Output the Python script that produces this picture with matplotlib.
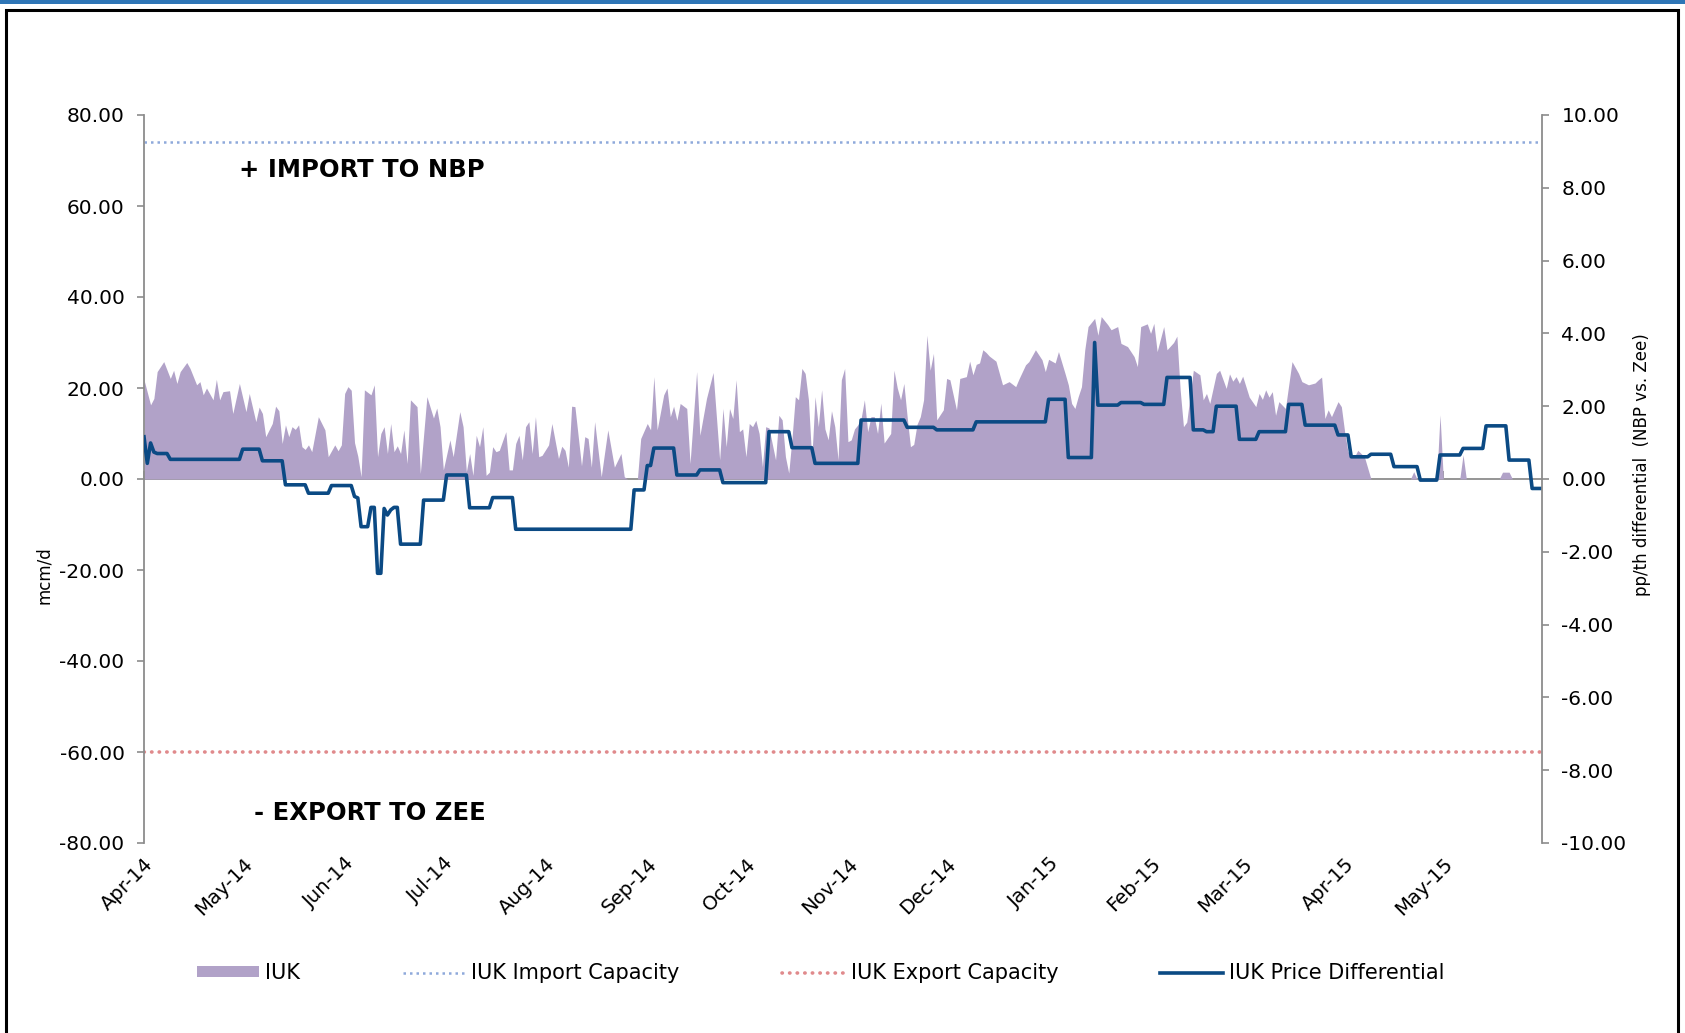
import pandas as pd
import matplotlib
matplotlib.use("Agg")
import matplotlib.pyplot as plt
import matplotlib.dates as mdates
import matplotlib.ticker as mticker
from matplotlib.patches import Rectangle, Patch
from matplotlib.lines import Line2D

# ---------------- data ----------------
start_date = "2014-04-01"
end_date = "2015-05-31"

flow_days = [0, 2, 3, 4, 6, 8, 9, 10, 11, 13, 14, 16, 17, 18, 19, 21, 22, 23, 24, 26,
             27, 29, 31, 32, 34, 35, 36, 37, 39, 40, 41, 42, 43, 44, 45, 46, 47, 48, 49, 50,
             51, 53, 55, 56, 58, 59, 60, 61, 62, 63, 64, 65, 66, 67, 69, 70, 71, 72, 73, 74,
             75, 76, 77, 78, 79, 80, 81, 83, 84, 86, 88, 89, 90, 91, 93, 94, 96, 97, 98, 99,
             100, 101, 102, 103, 104, 105, 106, 107, 108, 110, 111, 112, 113, 114, 115, 116, 117, 118, 119, 120,
             121, 123, 124, 126, 127, 128, 129, 130, 131, 133, 134, 135, 136, 137, 139, 141, 143, 145, 146, 147,
             150, 151, 153, 154, 155, 156, 158, 159, 160, 161, 162, 163, 165, 166, 168, 169, 171, 173, 175, 176,
             177, 178, 179, 180, 181, 182, 183, 184, 185, 186, 187, 188, 189, 190, 192, 193, 194, 195, 196, 197,
             198, 199, 200, 201, 202, 203, 204, 205, 206, 207, 208, 209, 210, 211, 212, 213, 214, 215, 216, 217,
             218, 219, 220, 221, 222, 223, 224, 225, 227, 228, 229, 230, 231, 232, 233, 234, 235, 236, 237, 238,
             239, 240, 241, 243, 244, 245, 247, 248, 250, 251, 252, 253, 254, 255, 256, 257, 259, 261, 263, 265,
             266, 268, 269, 271, 273, 274, 275, 277, 278, 280, 281, 282, 283, 284, 285, 286, 287, 289, 290, 291,
             293, 294, 296, 297, 299, 301, 302, 303, 305, 306, 307, 308, 310, 311, 313, 314, 315, 316, 317, 319,
             321, 322, 323, 324, 326, 327, 329, 330, 331, 332, 333, 334, 336, 338, 339, 340, 341, 342, 343, 344,
             345, 347, 349, 351, 352, 354, 356, 357, 358, 359, 360, 361, 363, 364, 365, 366, 368, 369, 371, 373,
             385, 386, 387, 393, 394, 395, 400, 401, 402, 412, 413, 415, 416, 425]
flow_values = [21.8, 16.3, 17.7, 23.6, 25.8, 22.1, 23.9, 21.0, 23.6, 25.6, 24.3, 20.7, 21.4, 18.5, 20.0, 17.4, 21.9, 17.4, 19.2, 19.4,
               14.4, 21.0, 14.8, 18.8, 12.6, 15.8, 14.4, 9.3, 12.2, 16.0, 15.0, 7.8, 11.9, 9.3, 11.5, 10.9, 11.9, 7.1, 6.5, 7.5,
               6.0, 13.7, 10.8, 4.9, 7.5, 6.2, 7.5, 18.8, 20.3, 19.5, 8.0, 5.0, 0.5, 19.6, 18.5, 20.7, 4.9, 10.0, 11.5, 5.6,
               12.2, 6.0, 7.3, 5.6, 10.8, 3.4, 17.4, 15.9, 1.2, 18.1, 13.4, 15.6, 11.5, 2.0, 8.6, 4.9, 14.8, 11.5, 1.6, 5.6,
               0.8, 9.6, 7.1, 11.5, 0.8, 1.5, 7.1, 6.0, 6.3, 10.4, 2.0, 2.0, 7.8, 9.6, 4.2, 11.5, 12.6, 5.6, 13.7, 4.9,
               5.2, 7.5, 12.2, 4.5, 7.2, 6.3, 2.6, 16.0, 15.9, 2.9, 9.3, 8.9, 2.6, 12.6, 0.5, 10.8, 2.6, 5.6, 0.5, 0.0,
               0.0, 8.9, 12.2, 10.8, 22.5, 10.8, 18.5, 20.0, 13.7, 16.0, 12.9, 16.6, 15.5, 3.4, 23.6, 9.6, 17.7, 23.4, 4.2, 15.5,
               7.1, 15.5, 13.3, 21.8, 10.4, 11.0, 4.9, 12.2, 11.5, 12.9, 10.0, 2.7, 11.5, 11.2, 4.2, 14.0, 13.0, 4.9, 1.3, 9.0,
               18.1, 17.4, 24.3, 23.2, 17.4, 4.2, 18.1, 11.5, 19.6, 11.0, 8.6, 15.0, 11.5, 4.2, 21.8, 24.3, 8.2, 8.6, 11.0, 11.9,
               13.3, 17.4, 10.4, 13.7, 13.7, 10.0, 16.7, 7.9, 10.0, 23.9, 20.0, 17.4, 21.0, 13.7, 7.1, 7.6, 12.0, 13.7, 17.4, 31.6,
               23.9, 27.6, 13.0, 15.2, 22.1, 21.8, 15.2, 22.1, 22.5, 25.9, 22.9, 25.2, 25.5, 28.4, 27.8, 27.0, 25.9, 20.7, 21.4, 20.3,
               22.0, 25.1, 25.8, 28.4, 26.2, 23.6, 26.3, 25.5, 28.0, 23.2, 20.7, 16.6, 15.5, 18.1, 20.3, 28.4, 33.5, 35.3, 31.6, 35.7,
               33.9, 32.8, 33.5, 29.8, 29.1, 26.9, 24.7, 33.5, 34.1, 32.0, 34.2, 28.0, 33.5, 28.4, 30.0, 31.4, 19.6, 11.5, 12.5, 23.9,
               22.9, 17.4, 18.8, 16.6, 23.2, 23.9, 19.9, 23.1, 21.5, 22.5, 21.0, 22.6, 18.0, 15.9, 18.8, 17.5, 19.6, 18.0, 19.2, 14.0,
               17.0, 15.5, 25.8, 23.2, 21.4, 20.7, 21.1, 21.8, 22.4, 13.3, 15.2, 13.7, 17.0, 15.9, 10.4, 6.0, 4.9, 6.3, 4.9, 0.0,
               0.0, 1.6, 0.0, 0.0, 14.1, 0.0, 0.0, 5.3, 0.0, 0.0, 1.5, 1.5, 0.0, 0.0]

price_days = [0, 1, 2, 3, 4, 7, 8, 29, 30, 35, 36, 42, 43, 49, 50, 56, 57, 63, 64, 65,
              66, 68, 69, 70, 71, 72, 73, 74, 75, 76, 77, 78, 84, 85, 91, 92, 98, 99, 105, 106,
              112, 113, 148, 149, 152, 153, 154, 155, 161, 162, 168, 169, 175, 176, 189, 190, 196, 197, 203, 204,
              217, 218, 231, 232, 240, 241, 252, 253, 274, 275, 280, 281, 288, 289, 290, 296, 297, 303, 304, 310,
              311, 318, 319, 322, 323, 325, 326, 332, 333, 338, 339, 347, 348, 352, 353, 362, 363, 366, 367, 372,
              373, 379, 380, 387, 388, 393, 394, 400, 401, 407, 408, 414, 415, 421, 422, 425]
price_values = [1.16, 0.43, 0.99, 0.74, 0.70, 0.70, 0.54, 0.54, 0.82, 0.82, 0.50, 0.50, -0.16, -0.16, -0.39, -0.39, -0.18, -0.18, -0.48, -0.52,
                -1.31, -1.31, -0.78, -0.78, -2.59, -2.59, -0.81, -0.99, -0.85, -0.78, -0.78, -1.79, -1.79, -0.58, -0.58, 0.11, 0.11, -0.79, -0.79, -0.51,
                -0.51, -1.38, -1.38, -0.30, -0.30, 0.37, 0.37, 0.85, 0.85, 0.11, 0.11, 0.25, 0.25, -0.10, -0.10, 1.30, 1.30, 0.86, 0.86, 0.43,
                0.43, 1.62, 1.62, 1.42, 1.42, 1.35, 1.35, 1.57, 1.57, 2.19, 2.19, 0.59, 0.59, 3.75, 2.03, 2.03, 2.10, 2.10, 2.05, 2.05,
                2.79, 2.79, 1.35, 1.35, 1.30, 1.30, 2.00, 2.00, 1.09, 1.09, 1.30, 1.30, 2.05, 2.05, 1.48, 1.48, 1.21, 1.21, 0.61, 0.61,
                0.68, 0.68, 0.34, 0.34, -0.03, -0.03, 0.66, 0.66, 0.84, 0.84, 1.46, 1.46, 0.52, 0.52, -0.26, -0.26]

import_capacity = 74.0
export_capacity = -60.0
left_ticks = [-80, -60, -40, -20, 0, 20, 40, 60, 80]
right_ticks = [-10, -8, -6, -4, -2, 0, 2, 4, 6, 8, 10]
label_import = "+ IMPORT TO NBP"
label_export = "- EXPORT TO ZEE"

# ---------------- style ----------------
plt.rcParams["font.family"] = ["DejaVu Sans"]
AREA_C = "#B1A2C8"
LINE_C = "#0B4A84"
IMP_C = "#8EA9DB"
EXP_C = "#E08A8C"
AX_C = "#8C8C8C"

start = pd.Timestamp(start_date)
end = pd.Timestamp(end_date)
flow_dates = start + pd.to_timedelta(flow_days, unit="D")
price_dates = start + pd.to_timedelta(price_days, unit="D")

fig = plt.figure(figsize=(16.85, 10.33), dpi=100)
ax = fig.add_axes([144 / 1685, 1 - 843 / 1033, (1542 - 144) / 1685, (843 - 115) / 1033])
ax2 = ax.twinx()

ax.fill_between(flow_dates, flow_values, 0, color=AREA_C, lw=0, label="IUK")
ax.plot([start, end], [import_capacity, import_capacity], color=IMP_C, lw=1.8,
        linestyle=(0, (1, 1.6)), label="IUK Import Capacity")
ax.plot([start, end], [export_capacity, export_capacity], color=EXP_C, lw=2.6,
        linestyle=(0, (0.1, 2.0)), dash_capstyle="round", label="IUK Export Capacity")
ax2.plot(price_dates, price_values, color=LINE_C, lw=2.6, label="IUK Price Differential")

ax.set_xlim(start, end)
ax.set_ylim(-80, 80)
ax2.set_ylim(-10, 10)
ax.set_yticks(left_ticks)
ax.set_yticklabels([f"{v:.2f}" for v in left_ticks])
ax2.set_yticks(right_ticks)
ax2.set_yticklabels([f"{v:.2f}" for v in right_ticks])

for a in (ax, ax2):
    for s in ("top", "bottom"):
        a.spines[s].set_visible(False)
ax.spines["right"].set_visible(False)
ax2.spines["left"].set_visible(False)
ax.spines["left"].set_color(AX_C)
ax.spines["left"].set_linewidth(1.3)
ax2.spines["right"].set_color(AX_C)
ax2.spines["right"].set_linewidth(1.3)

ax.tick_params(axis="y", direction="out", length=5, width=1.2, color=AX_C,
               labelsize=14.5, pad=9)
ax2.tick_params(axis="y", direction="out", length=5, width=1.2, color=AX_C,
                labelsize=14.5, pad=9)

# month labels at bottom (no ticks)
ax.xaxis.set_major_locator(mdates.MonthLocator())
ax.xaxis.set_major_formatter(mdates.DateFormatter("%b-%y"))
ax.tick_params(axis="x", length=0, labelsize=14.2, pad=8)
for lbl in ax.get_xticklabels():
    lbl.set_rotation(45)
    lbl.set_ha("right")
    lbl.set_rotation_mode("anchor")

# zero axis line with tick marks
sec = ax.secondary_xaxis(0.5)
sec.xaxis.set_major_locator(mdates.MonthLocator())
sec.xaxis.set_major_formatter(mticker.NullFormatter())
for sp in sec.spines.values():
    sp.set_color(AX_C)
    sp.set_linewidth(1.3)
sec.tick_params(axis="x", direction="out", length=6, width=1.3, color=AX_C)

ax.set_ylabel("mcm/d", fontsize=12)
ax.yaxis.set_label_coords(-0.065, 0.368)
ax2.set_ylabel("pp/th differential  (NBP vs. Zee)", fontsize=12)
ax2.yaxis.set_label_coords(1.065, 0.52)

ax.text(start + pd.Timedelta(days=29), 67.9, label_import, fontsize=17.5,
        fontweight="bold", va="center", ha="left")
ax.text(start + pd.Timedelta(days=33.5), -73.4, label_export, fontsize=17.5,
        fontweight="bold", va="center", ha="left")

handles = [Patch(facecolor=AREA_C, edgecolor="none"),
           Line2D([], [], color=IMP_C, lw=1.8, linestyle=(0, (1, 1.6))),
           Line2D([], [], color=EXP_C, lw=2.6, linestyle=(0, (0.1, 2.0)), dash_capstyle="round"),
           Line2D([], [], color=LINE_C, lw=2.6)]
labels = ["IUK", "IUK Import Capacity", "IUK Export Capacity", "IUK Price Differential"]
fig.legend(handles, labels, loc="center", bbox_to_anchor=(0.487, 0.058), ncol=4,
           frameon=False, fontsize=15, handlelength=3.0, handleheight=0.45,
           handletextpad=0.3, columnspacing=4.9)

# frame decorations
fig.patches.append(Rectangle((0, 1 - 3.5 / 1033), 1, 3.5 / 1033, transform=fig.transFigure,
                             facecolor="#2E75B6", edgecolor="none"))
fig.patches.append(Rectangle((6 / 1685, -0.02), 1672 / 1685, 1.02 - 10 / 1033,
                             transform=fig.transFigure, fill=False, edgecolor="black", lw=2.2))

fig.savefig("out.png", dpi=100)
